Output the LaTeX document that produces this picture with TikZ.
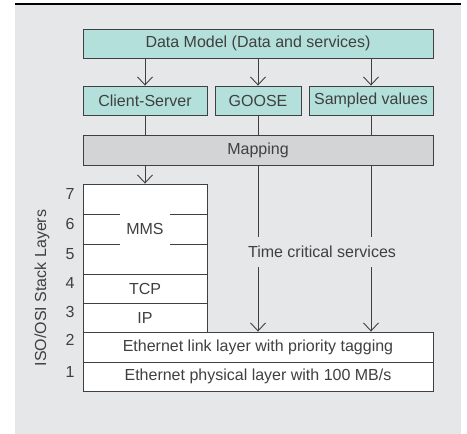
\documentclass[tikz,border=0pt]{standalone}
\usepackage{fontspec}
\setmainfont{Liberation Sans}
\usetikzlibrary{arrows.meta}

\definecolor{panelgray}{HTML}{E6E7E8}
\definecolor{teal}{HTML}{B3E0DA}
\definecolor{mapgray}{HTML}{D3D4D5}
\definecolor{ink}{HTML}{404040}

\tikzset{
    box/.style={draw=ink, line width=0.9pt, text=ink, minimum height=29pt, inner sep=0pt},
    service/.style={box, fill=teal},
    layer/.style={box, fill=white},
    arr/.style={draw=ink, line width=0.9pt, -{Straight Barb[length=8pt,width=15pt,line width=0.9pt]}},
    link/.style={draw=ink, line width=0.9pt},
    num/.style={text=ink, inner sep=0pt}
}

\begin{document}
\begin{tikzpicture}[x=1pt, y=-1pt, font=\fontsize{16}{18}\selectfont]
    \useasboundingbox (0,0) rectangle (467,434);

    % Background panel and top rule
    \fill[panelgray] (15,5) rectangle (461,434);
    \draw[line width=1.6pt] (15,4) -- (461,4);

    % Data model and services
    \node[service, minimum width=350pt] (dm) at (258,43.5) {Data Model (Data and services)};
    \node[service, minimum width=124pt] (cs) at (145,100.5) {Client-Server};
    \node[service, minimum width=86pt] (goose) at (258,100.5) {GOOSE};
    \node[service, minimum width=124pt] (sv) at (371,100.5) {Sampled values};
    \node[box, fill=mapgray, minimum width=350pt, minimum height=30pt] (map) at (258,150) {Mapping};

    % Stack layers
    \node[layer, minimum width=124pt, minimum height=90pt] (mms) at (145,229) {MMS};
    \node[layer, minimum width=124pt] (tcp) at (145,288.5) {TCP};
    \node[layer, minimum width=124pt] (ip) at (145,317.5) {IP};
    \node[layer, minimum width=350pt, minimum height=30pt] (eth) at (258,347) {Ethernet link layer with priority tagging};
    \node[layer, minimum width=350pt] (phy) at (258,376.5) {Ethernet physical layer with 100 MB/s};

    % Broken lines between layers 5, 6 and 7
    \foreach \y in {214,244} {
        \draw[link] (mms.west |- 0,\y) -- ++(37,0);
        \draw[link] (mms.east |- 0,\y) -- ++(-37,0);
    }

    % Layer numbers
    \foreach \n/\y in {7/194, 6/224, 5/254, 4/283, 3/312, 2/340, 1/372} {
        \node[num] (n\n) at (70,\y) {\n};
    }
    \node[text=ink, rotate=90] (osi) at (42,288) {ISO/OSI Stack Layers};

    % Connections
    \foreach \s in {cs,goose,sv} {
        \draw[arr] (dm.south -| \s.north) -- (\s.north);
        \draw[link] (\s.south) -- (map.north -| \s.south);
    }
    \draw[arr] (map.south -| mms.north) -- (mms.north);

    % Time critical services
    \node[text=ink, minimum height=30pt, inner sep=0pt] (tcs) at (322,252) {Time critical services};
    \foreach \s in {goose,sv} {
        \draw[link] (map.south -| \s) -- (tcs.north -| \s);
        \draw[arr] (tcs.south -| \s) -- (eth.north -| \s);
    }
\end{tikzpicture}
\end{document}
